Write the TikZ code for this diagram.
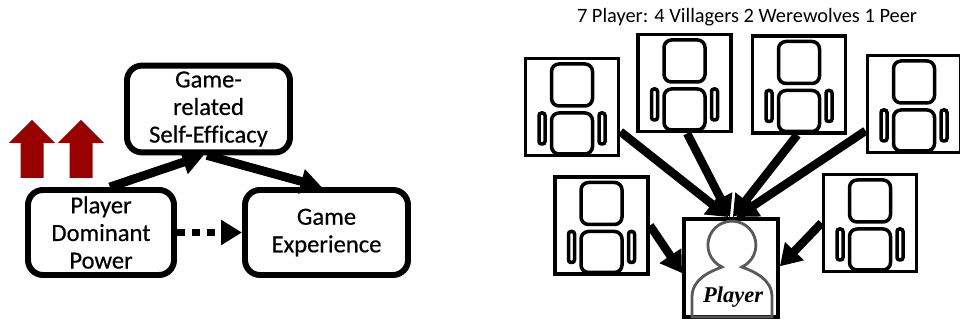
\documentclass[tikz,border=0pt]{standalone}
\usepackage{fontspec}
\setmainfont{Carlito}
\newfontfamily\factorfont[FakeBold=0.5,Ligatures=NoCommon]{Carlito}
\newfontfamily\playerfont{Liberation Serif}
\usetikzlibrary{arrows.meta}

\definecolor{upred}{HTML}{990000}
\definecolor{figgray}{HTML}{595959}

\tikzset{
  factor/.style={draw,line width=3.4pt,rounded corners=0.3cm,align=center,
    minimum height=1.70cm,font=\factorfont\fontsize{14}{15.7}\selectfont,
    execute at begin node=\rule{0pt}{12pt}},
  link/.style={line width=5pt,-{Triangle[length=0.42cm,width=0.48cm]}},
  seatframe/.style={draw,line width=2.2pt,minimum width=1.86cm,minimum height=1.94cm},
  seatpart/.style={line width=2pt,rounded corners=0.15cm},
  stare/.style={line width=4.8pt,-{Triangle[length=0.42cm,width=0.5cm]}},
}

\newcommand{\seatat}[2]{
  \node [seatframe] (#1) at (#2) {};
  \begin{scope}[shift={(#2)}]
    \draw[seatpart] (-0.41,0.02) rectangle (0.41,0.86);
    \draw[seatpart] (-0.41,-0.94) rectangle (0.41,-0.12);
    \draw[seatpart,rounded corners=0.05cm] (-0.66,-0.74) rectangle (-0.54,-0.12);
    \draw[seatpart,rounded corners=0.05cm] (0.54,-0.74) rectangle (0.66,-0.12);
  \end{scope}
}

\begin{document}
\begin{tikzpicture}
\useasboundingbox (0,0) rectangle (19.2,6.48);

% Left side: the three factors.
\node [factor,minimum width=2.92cm] (power) at (2.02,1.83) {Player\\Dominant\\Power};
\node [factor,minimum width=3.26cm] (efficacy) at (4.17,4.30) {Game-\\related\\Self-Efficacy};
\node [factor,minimum width=3.26cm] (experience) at (6.53,1.83) {Game\\Experience};

\draw[link] (power.79) -- (efficacy.264);
\draw[link] (efficacy.-92) -- (experience.96);
\draw[link,dash pattern=on 4.6pt off 4pt,line width=4pt] (power.east) -- (experience.west);

% Red arrows, up.
\foreach \x in {0.64,1.62} {
  \fill[upred] (\x,4.08) -- (\x+0.46,3.62) -- (\x+0.23,3.62) -- (\x+0.23,2.92)
    -- (\x-0.23,2.92) -- (\x-0.23,3.62) -- (\x-0.46,3.62) -- cycle;
}

% Right side: the table of players.
\node (title) at (14.94,6.14) {\fontsize{11.6}{14}\selectfont 7 Player: 4 Villagers 2 Werewolves 1 Peer};

\seatat{seatA}{11.44,4.34}
\seatat{seatB}{13.69,4.82}
\seatat{seatC}{15.98,4.79}
\seatat{seatD}{18.28,4.40}
\seatat{seatE}{12.03,1.97}
\seatat{seatF}{17.40,2.02}

\node [draw,line width=2.2pt,minimum width=1.88cm,minimum height=1.96cm] (player) at (14.62,1.12) {};

% Player figure.
\draw[figgray,line width=1.6pt] (13.84,0.14) -- (13.84,0.54) .. controls (13.84,0.9) and (14.2,1.05) .. (14.44,1.14)
  arc[start angle=245.6,end angle=-65.6,radius=0.48]
  .. controls (15.08,1.05) and (15.44,0.9) .. (15.44,0.54) -- (15.44,0.14) -- cycle;
\node (playername) at (14.66,0.54) {\playerfont\fontsize{12.8}{14}\selectfont\bfseries\itshape Player};

\draw[stare] (seatA.-27) -- (player.93);
\draw[stare] (seatB.-87) -- (player.91);
\draw[stare] (seatC.-92) -- (player.88);
\draw[stare] (seatD.-151) -- (player.84);
\draw[stare] (seatE.east) -- (player.186);
\draw[stare] (seatF.west) -- (player.2);

\end{tikzpicture}
\end{document}
